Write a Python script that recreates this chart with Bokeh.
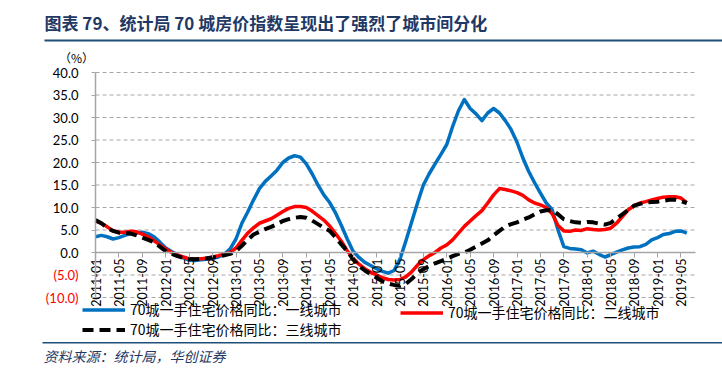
import math
from bokeh.plotting import figure
from bokeh.models import FixedTicker, Label, BoxAnnotation, Legend, LegendItem, Range1d
from bokeh.embed import file_html
from bokeh.resources import INLINE

# ---------------- data (monthly, 2011-01 .. 2019-06) ----------------
tier1 = [3.5, 3.8, 3.5, 3.0, 3.3, 3.8, 4.2, 4.4, 4.5, 4.2, 3.5, 2.3,
         1.0, 0.2, -0.5, -1.2, -1.7, -1.8, -1.6, -1.5, -1.3, -1.0, -0.4, 0.8,
         3.0, 6.5, 9.0, 11.7, 14.2, 15.8, 17.0, 18.3, 20.0, 21.0, 21.5, 21.2,
         19.7, 17.5, 15.0, 12.8, 11.1, 8.8, 6.0, 3.0, 0.3, -1.1, -2.2, -2.9,
         -3.6, -4.2, -4.6, -4.0, -1.5, 2.5, 6.8, 11.0, 15.0, 17.5, 19.7, 21.8,
         24.0, 28.0, 31.5, 34.0, 32.0, 30.8, 29.3, 31.0, 32.0, 31.0, 29.3, 27.3,
         24.5, 21.0, 18.0, 15.5, 13.2, 11.0, 9.5, 5.0, 1.3, 0.9, 0.8, 0.6,
         -0.1, 0.3, -0.4, -1.0, -0.5, 0.1, 0.6, 1.0, 1.2, 1.3, 1.8, 2.8,
         3.3, 4.0, 4.2, 4.7, 4.8, 4.3]
tier2 = [7.0, 6.5, 5.7, 4.8, 4.5, 4.5, 4.7, 4.6, 4.1, 3.5, 2.6, 1.7,
         0.8, 0.0, -0.6, -1.0, -1.4, -1.5, -1.4, -1.3, -1.0, -0.7, -0.3, 0.0,
         1.0, 2.7, 4.3, 5.5, 6.5, 7.0, 7.5, 8.3, 9.1, 9.8, 10.2, 10.2,
         10.0, 9.2, 8.2, 7.2, 5.9, 4.2, 2.5, 0.4, -1.3, -2.6, -3.6, -4.4,
         -5.0, -5.6, -6.0, -6.1, -6.0, -5.4, -4.3, -2.8, -1.6, -0.7, 0.0, 1.0,
         1.7, 2.8, 4.3, 5.8, 7.0, 8.2, 9.3, 11.0, 12.8, 14.2, 14.0, 13.7,
         13.3, 12.7, 11.7, 11.0, 10.6, 10.0, 8.6, 6.0, 4.8, 4.7, 5.0, 4.9,
         5.3, 5.1, 5.0, 5.1, 5.4, 6.5, 8.0, 9.5, 10.4, 11.0, 11.3, 11.7,
         12.0, 12.3, 12.4, 12.4, 12.1, 11.1]
tier3 = [7.2, 6.5, 5.5, 4.8, 4.4, 4.4, 4.2, 3.8, 3.3, 2.8, 2.3, 1.3,
         0.3, -0.3, -0.8, -1.2, -1.4, -1.5, -1.4, -1.3, -1.1, -0.9, -0.6, -0.3,
         0.3, 1.5, 2.8, 4.0, 4.6, 5.2, 5.7, 6.3, 7.0, 7.4, 7.7, 7.9,
         7.7, 7.1, 6.3, 5.5, 4.8, 3.4, 1.8, 0.3, -1.5, -3.0, -4.0, -4.8,
         -5.6, -6.4, -6.9, -7.2, -7.4, -7.0, -5.9, -4.6, -3.7, -3.0, -2.4, -1.9,
         -1.4, -0.8, -0.3, 0.0, 0.6, 1.3, 2.0, 2.7, 3.8, 4.8, 5.8, 6.3,
         6.7, 7.3, 7.8, 8.5, 9.1, 9.4, 9.4, 8.5, 7.4, 7.0, 6.7, 6.6,
         6.8, 6.7, 6.4, 6.2, 6.6, 7.5, 8.5, 9.5, 10.4, 10.8, 11.1, 11.2,
         11.3, 11.5, 11.7, 11.7, 11.4, 11.0]

x_tick_labels = ["2011-01", "2011-05", "2011-09", "2012-01", "2012-05", "2012-09",
                 "2013-01", "2013-05", "2013-09", "2014-01", "2014-05", "2014-09",
                 "2015-01", "2015-05", "2015-09", "2016-01", "2016-05", "2016-09",
                 "2017-01", "2017-05", "2017-09", "2018-01", "2018-05", "2018-09",
                 "2019-01", "2019-05"]
y_ticks = [-10, -5, 0, 5, 10, 15, 20, 25, 30, 35, 40]
y_tick_labels = ["(10.0)", "(5.0)", "0.0", "5.0", "10.0", "15.0", "20.0",
                 "25.0", "30.0", "35.0", "40.0"]

series_names = ["70城一手住宅价格同比：一线城市",
                "70城一手住宅价格同比：二线城市",
                "70城一手住宅价格同比：三线城市"]
title_text = "图表 79、统计局 70 城房价指数呈现出了强烈了城市间分化"
source_text = "资料来源：统计局，华创证券"

# ---------------- geometry ----------------
W, H = 722, 373
PLOT_LEFT, PLOT_RIGHT = 95, 694.5      # page px of the plotting area
PLOT_TOP, PLOT_BOTTOM = 72, 297
XMAX = 102.4
YMIN, YMAX = -10, 40
PX = (PLOT_RIGHT - PLOT_LEFT) / XMAX
PY = (PLOT_BOTTOM - PLOT_TOP) / (YMAX - YMIN)
ZERO_PAGE = PLOT_TOP + YMAX * PY


def dx(px):
    return (px - PLOT_LEFT) / PX


def dy(py):
    return (ZERO_PAGE - py) / PY


x = list(range(len(tier1)))
x_ticks = [i * 4 for i in range(len(x_tick_labels))]

p = figure(width=W, height=H, output_backend="svg", toolbar_location=None,
           x_range=Range1d(dx(0), dx(W)), y_range=Range1d(dy(H), dy(0)),
           min_border=0)
p.outline_line_color = None
p.background_fill_color = "white"
p.border_fill_color = "white"
p.xgrid.visible = False
p.ygrid.visible = False

GRAY = "#A6A6A6"

# dashed horizontal gridlines
p.segment(x0=[0] * len(y_ticks), x1=[XMAX] * len(y_ticks), y0=y_ticks, y1=y_ticks,
          line_color=GRAY, line_width=1, line_dash="4 3")

# x axis at y=0
xa = p.xaxis[0]
xa.fixed_location = 0
xa.bounds = (0, XMAX)
xa.ticker = FixedTicker(ticks=x_ticks)
xa.major_label_overrides = {t: l for t, l in zip(x_ticks, x_tick_labels)}
xa.major_label_orientation = math.pi / 2
xa.axis_line_color = GRAY
xa.axis_line_width = 1.5
xa.major_tick_line_color = GRAY
xa.major_tick_out = 5
xa.major_tick_in = 0
xa.minor_tick_line_color = None
xa.major_label_text_font = "Lato"
xa.major_label_text_font_size = "12.5px"
xa.major_label_text_color = "#000000"
xa.major_label_standoff = 1

# y axis at x=0
ya = p.yaxis[0]
ya.fixed_location = 0
ya.bounds = (YMIN, YMAX)
ya.ticker = FixedTicker(ticks=y_ticks)
ya.major_label_overrides = {t: (l if t >= 0 else "") for t, l in zip(y_ticks, y_tick_labels)}
ya.axis_line_color = GRAY
ya.axis_line_width = 1.5
ya.major_tick_line_color = GRAY
ya.major_tick_out = 4
ya.major_tick_in = 0
ya.minor_tick_line_color = None
ya.major_label_text_font = "Lato"
ya.major_label_text_font_size = "13px"
ya.major_label_text_color = "#000000"
ya.major_label_standoff = 13

# negative tick labels in red
for t, l in zip(y_ticks, y_tick_labels):
    if t < 0:
        p.add_layout(Label(x=dx(78), y=t, text=l, text_align="right",
                           text_baseline="middle", text_font="Lato",
                           text_font_size="13px", text_color="#FF0000"))

# series
r1 = p.line(x, tier1, line_color="#0070C0", line_width=3.5, line_join="round")
r2 = p.line(x, tier2, line_color="#FF0000", line_width=3.5, line_join="round")
r3 = p.line(x, tier3, line_color="#000000", line_width=4, line_dash="11 6")

# legends
ROW = 17
common = dict(border_line_color=None, background_fill_alpha=0, padding=0, margin=0,
              spacing=0, glyph_width=43, glyph_height=ROW, label_height=ROW,
              label_standoff=5, label_text_font="Noto Sans CJK SC",
              label_text_font_size="14px", label_text_color="#000000")
LEG_TOP = 305
leg1 = Legend(items=[LegendItem(label=series_names[0], renderers=[r1]),
                     LegendItem(label=series_names[2], renderers=[r3])],
              location=(82, H - LEG_TOP - 2 * ROW), **common)
leg2 = Legend(items=[LegendItem(label=series_names[1], renderers=[r2])],
              location=(400, H - LEG_TOP - ROW), **common)
p.add_layout(leg1)
p.add_layout(leg2)

# (%) unit label
p.add_layout(Label(x=dx(76), y=dy(57), text="（%）", text_align="center",
                   text_baseline="middle", text_font="Noto Sans CJK SC",
                   text_font_size="12px", text_color="#000000"))

# title and rule
p.add_layout(Label(x=dx(44), y=dy(22), text=title_text, text_align="left",
                   text_baseline="middle", text_font="Noto Sans CJK SC",
                   text_font_style="bold", text_font_size="17px",
                   text_color="#1F3864"))
p.add_layout(BoxAnnotation(left=dx(44), right=dx(722), top=dy(39), bottom=dy(41),
                           fill_color="#1F4E79", fill_alpha=1, line_color=None))

# source and rule
p.add_layout(BoxAnnotation(left=dx(42), right=dx(722), top=dy(341.5), bottom=dy(343),
                           fill_color="#1F4E79", fill_alpha=1, line_color=None))
p.add_layout(Label(x=dx(43), y=dy(355), text=source_text, text_align="left",
                   text_baseline="middle", text_font="Noto Sans CJK SC",
                   text_font_style="italic", text_font_size="14px",
                   text_color="#1F3864"))

open("out.html", "w").write(file_html(p, INLINE))
